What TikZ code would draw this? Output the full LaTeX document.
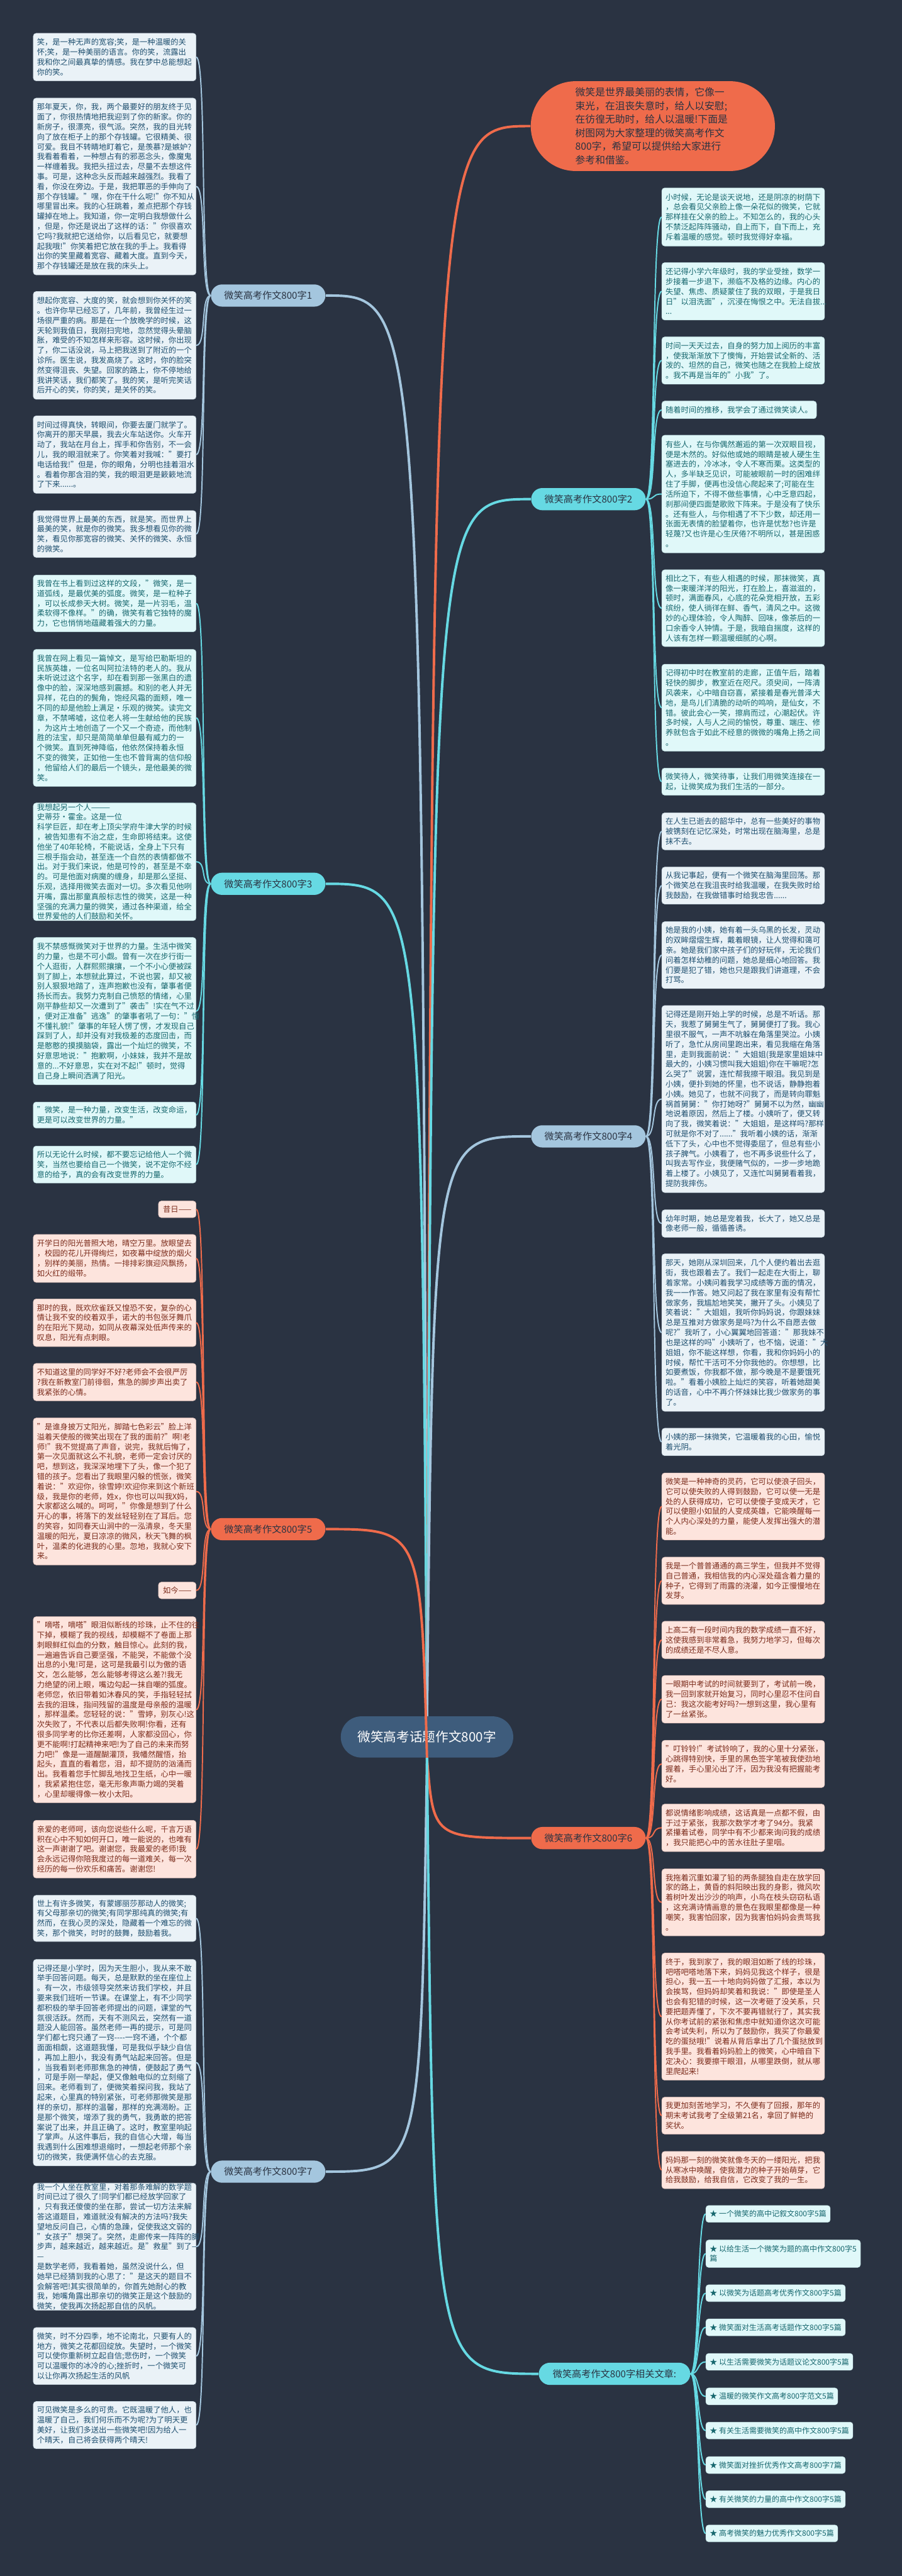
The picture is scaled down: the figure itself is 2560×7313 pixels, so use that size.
\documentclass[tikz,border=0pt]{standalone}
\usepackage{fontspec}
\setmainfont{Noto Sans CJK SC}
\usetikzlibrary{positioning,shapes.misc}
\definecolor{mapbg}{RGB}{42,51,66}
\definecolor{bluefill}{RGB}{234,242,247}
\definecolor{blueink}{RGB}{30,79,111}
\definecolor{tealfill}{RGB}{224,248,249}
\definecolor{tealink}{RGB}{22,103,110}
\definecolor{redfill}{RGB}{253,228,221}
\definecolor{redink}{RGB}{123,43,27}
\definecolor{bluepill}{RGB}{164,198,222}
\definecolor{tealpill}{RGB}{102,217,227}
\definecolor{redpill}{RGB}{239,107,75}
\definecolor{rootfill}{RGB}{62,92,124}
\newcommand{\boxfont}{\fontsize{6.25pt}{8.03pt}\selectfont}

\begin{document}
\begin{tikzpicture}[x=0.1mm,y=-0.1mm,
  para/.style={font=\boxfont,align=left,text width=44.1mm,inner xsep=1.05mm,inner ysep=0pt,rounded corners=0.8mm,line width=0.1mm},
  bluebox/.style={para,fill=bluefill,draw=bluefill!85!blueink,text=blueink},
  tealbox/.style={para,fill=tealfill,draw=tealfill!85!tealink,text=tealink},
  redbox/.style={para,fill=redfill,draw=redfill!85!redink,text=redink},
  lft/.style={anchor=north east},
  rgt/.style={anchor=north west},
  branch/.style={rounded rectangle,minimum width=32.5mm,minimum height=6.3mm,inner sep=0pt,font=\fontsize{7.7pt}{9pt}\selectfont,text=mapbg},
  item/.style={rounded corners=0.8mm,fill=tealfill,draw=tealfill!85!tealink,line width=0.1mm,text=tealink,anchor=west,align=left,
    minimum height=4.8mm,inner xsep=1.1mm,inner ysep=0pt,font=\fontsize{6.1pt}{7.8pt}\selectfont},
  bluelink/.style={draw=bluepill,line width=0.35mm},
  teallink/.style={draw=tealpill,line width=0.35mm},
  redlink/.style={draw=redpill,line width=0.35mm},
  trunk/.style={line width=0.7mm}]
\useasboundingbox (0,0) rectangle (2560,7313);
\fill[mapbg] (0,0) rectangle (2560,7313);

% root and intro
\node[rounded rectangle,fill=rootfill,text=white,minimum width=51.3mm,minimum height=11.7mm,font=\fontsize{10.5pt}{12pt}\selectfont] (root) at (1212,4931) {微笑高考话题作文800字};
\node[rounded rectangle,fill=redpill,text=mapbg,minimum width=69.3mm,minimum height=25.5mm,inner sep=0pt,align=left,text width=44mm,
  font=\fontsize{8.03pt}{10.9pt}\selectfont] (intro) at (1853,358) {微笑是世界最美丽的表情，它像一\\束光，在沮丧失意时，给人以安慰;\\在彷徨无助时，给人以温暖!下面是\\树图网为大家整理的微笑高考作文\\800字，希望可以提供给大家进行\\参考和借鉴。};

% branch nodes
\node[branch,fill=bluepill,anchor=west] (b1) at (598,839) {微笑高考作文800字1};
\node[branch,fill=tealpill,anchor=west] (b3) at (598,2509) {微笑高考作文800字3};
\node[branch,fill=redpill,anchor=west] (b5) at (598,4341) {微笑高考作文800字5};
\node[branch,fill=bluepill,anchor=west] (b7) at (598,6165) {微笑高考作文800字7};
\node[branch,fill=tealpill,anchor=west] (b2) at (1507,1417) {微笑高考作文800字2};
\node[branch,fill=bluepill,anchor=west] (b4) at (1507,3226) {微笑高考作文800字4};
\node[branch,fill=redpill,anchor=west] (b6) at (1507,5218) {微笑高考作文800字6};
\node[branch,fill=tealpill,anchor=east,minimum width=43mm] (br) at (1960,6739) {微笑高考作文800字相关文章:};

% branch 1
\node[bluebox,lft,minimum height=13.5mm] (a1) at (557,94) {笑，是一种无声的宽容;笑，是一种温暖的关\\怀;笑，是一种美丽的语言。你的笑，流露出\\我和你之间最真挚的情感。我在梦中总能想起\\你的笑。};
\node[bluebox,lft,minimum height=50.2mm] (a2) at (557,278) {那年夏天，你，我，两个最要好的朋友终于见\\面了，你很热情地把我迎到了你的新家。你的\\新房子，很漂亮，很气派。突然，我的目光转\\向了放在柜子上的那个存钱罐。它很精美、很\\可爱。我目不转睛地盯着它，是羡慕?是嫉妒?\\我看着看着，一种想占有的邪恶念头，像魔鬼\\一样缠着我。我把头扭过去，尽量不去想这件\\事。可是，这种念头反而越来越强烈。我看了\\看，你没在旁边。于是，我把罪恶的手伸向了\\那个存钱罐。"嘿，你在干什么呢!"你不知从\\哪里冒出来。我的心狂跳着，差点把那个存钱\\罐掉在地上。我知道，你一定明白我想做什么\\，但是，你还是说出了这样的话："你很喜欢\\它吗?我就把它送给你，以后看见它，就要想\\起我哦!"你笑着把它放在我的手上。我看得\\出你的笑里藏着宽容、藏着大度。直到今天，\\那个存钱罐还是放在我的床头上。};
\node[bluebox,lft,minimum height=30.6mm] (a3) at (557,827) {想起你宽容、大度的笑，就会想到你关怀的笑\\。也许你早已经忘了，几年前，我曾经生过一\\场很严重的病。那是在一个放晚学的时候，这\\天轮到我值日，我刚扫完地，忽然觉得头晕脑\\胀，难受的不知怎样来形容。这时候，你出现\\了，你二话没说，马上把我送到了附近的一个\\诊所。医生说，我发高烧了。这时，你的脸突\\然变得沮丧、失望。回家的路上，你不停地给\\我讲笑话，我们都笑了。我的笑，是听完笑话\\后开心的笑，你的笑，是关怀的笑。};
\node[bluebox,lft,minimum height=22mm] (a4) at (557,1180) {时间过得真快，转眼间，你要去厦门就学了。\\你离开的那天早晨，我去火车站送你。火车开\\动了，我站在月台上，挥手和你告别，不一会\\儿，我的眼泪就来了。你笑着对我喊："要打\\电话给我!"但是，你的眼角，分明也挂着泪水\\。看着你那含泪的笑，我的眼泪更是簌簌地流\\了下来......。};
\node[bluebox,lft,minimum height=13.3mm] (a5) at (557,1449) {我觉得世界上最美的东西，就是笑。而世界上\\最美的笑，就是你的微笑。我多想看见你的微\\笑，看见你那宽容的微笑、关怀的微笑、永恒\\的微笑。};

% branch 3
\node[tealbox,lft,minimum height=16.1mm] (c1) at (557,1632) {我曾在书上看到过这样的文段，"微笑，是一\\道弧线，是最优美的弧度。微笑，是一粒种子\\，可以长成参天大树。微笑，是一片羽毛，温\\柔软得不像样。"的确，微笑有着它独特的魔\\力，它也悄悄地蕴藏着强大的力量。};
\node[tealbox,lft,minimum height=38.9mm] (c2) at (557,1843) {我曾在网上看见一篇悼文，是写给巴勒斯坦的\\民族英雄，一位名叫阿拉法特的老人的。我从\\未听说过这个名字，却在看到那一张黑白的遗\\像中的脸，深深地感到震撼。和别的老人并无\\异样，花白的的鬓角，饱经风霜的面颊，唯一\\不同的却是他脸上满足·乐观的微笑。读完文\\章，不禁唏嘘，这位老人将一生献给他的民族\\，为这片土地创造了一个又一个奇迹，而他制\\胜的法宝，却只是简简单单但最有威力的一\\个微笑。直到死神降临，他依然保持着永恒\\不变的微笑，正如他一生也不曾背离的信仰般\\，他留给人们的最后一个镜头，是他最美的微\\笑。};
\node[tealbox,lft,minimum height=33.4mm] (c3) at (557,2279) {我想起另一个人———史蒂芬·霍金。这是一位\\科学巨匠，却在考上顶尖学府牛津大学的时候\\，被告知患有不治之症，生命即将结束。这使\\他坐了40年轮椅，不能说话，全身上下只有\\三根手指会动，甚至连一个自然的表情都做不\\出。对于我们来说，他是可怜的，甚至是不幸\\的。可是他面对病魔的缠身，却是那么坚挺、\\乐观，选择用微笑去面对一切。多次看见他咧\\开嘴，露出那童真般标志性的微笑，这是一种\\坚强的充满力量的微笑，通过各种渠道，给全\\世界爱他的人们鼓励和关怀。};
\node[tealbox,lft,minimum height=41.8mm] (c4) at (557,2661) {我不禁感慨微笑对于世界的力量。生活中微笑\\的力量，也是不可小觑。曾有一次在步行街一\\个人逛街，人群熙熙攘攘，一个不小心便被踩\\到了脚上，本想就此算过，不说也罢，却又被\\别人狠狠地踏了，连声抱歉也没有，肇事者便\\扬长而去。我努力克制自己愤怒的情绪，心里\\刚平静些却又一次遭到了"袭击"!实在气不过\\，便对正准备"逃逸"的肇事者吼了一句："懂\\不懂礼貌!"肇事的年轻人愣了愣，才发现自己\\踩到了人，却并没有对我极差的态度回击，而\\是憨憨的摸摸脑袋，露出一个灿烂的微笑，不\\好意思地说："抱歉啊，小妹妹，我并不是故\\意的...不好意思，实在对不起!"顿时，觉得\\自己身上瞬间洒满了阳光。};
\node[tealbox,lft,minimum height=7.4mm] (c5) at (557,3128) {"微笑，是一种力量，改变生活，改变命运，\\更是可以改变世界的力量。"};
\node[tealbox,lft,minimum height=10.5mm] (c6) at (557,3253) {所以无论什么时候，都不要忘记给他人一个微\\笑，当然也要给自己一个微笑，说不定你不经\\意的给予，真的会有改变世界的力量。};

% branch 5
\node[redbox,lft,text width=,inner xsep=1.3mm,minimum height=4.7mm] (d0) at (557,3409) {昔日——};
\node[redbox,lft,minimum height=13.6mm] (d1) at (557,3504) {开学日的阳光普照大地，晴空万里。放眼望去\\，校园的花儿开得绚烂，如夜幕中绽放的烟火\\，别样的美丽，热情。一排排彩旗迎风飘扬，\\如火红的缎带。};
\node[redbox,lft,minimum height=13.5mm] (d2) at (557,3687) {那时的我，既欢欣雀跃又惶恐不安，复杂的心\\情让我不安的绞着双手，诺大的书包张牙舞爪\\的在阳光下晃动，如同从夜幕深处低声传来的\\叹息，阳光有点刺眼。};
\node[redbox,lft,minimum height=10.6mm] (d3) at (557,3870) {不知道这里的同学好不好?老师会不会很严厉\\?我在新教室门前徘徊，焦急的脚步声出卖了\\我紧张的心情。};
\node[redbox,lft,minimum height=41.7mm] (d4) at (557,4025) {"是谁身披万丈阳光，脚踏七色彩云"脸上洋\\溢着天使般的微笑出现在了我的面前?"啊!老\\师!"我不觉提高了声音，说完，我就后悔了，\\第一次见面就这么不礼貌，老师一定会讨厌的\\吧，想到这，我深深地埋下了头，像一个犯了\\错的孩子。您看出了我眼里闪躲的慌张，微笑\\着说："欢迎你，徐雪婷!欢迎你来到这个新班\\级，我是你的老师，姓x，你也可以叫我X妈，\\大家都这么喊的。呵呵，"你像是想到了什么\\开心的事，将落下的发丝轻轻别在了耳后。您\\的笑容，如同春天山涧中的一泓清泉，冬天里\\温暖的阳光，夏日凉凉的微风，秋天飞舞的枫\\叶，温柔的化进我的心里。忽地，我就心安下\\来。};
\node[redbox,lft,text width=,inner xsep=1.3mm,minimum height=4.7mm] (d5) at (557,4491) {如今——};
\node[redbox,lft,minimum height=52.8mm] (d6) at (557,4589) {"嘀嗒，嘀嗒"眼泪似断线的珍珠，止不住的往\\下掉，模糊了我的视线，却模糊不了卷面上那\\刺眼鲜红似血的分数，触目惊心。此刻的我，\\一遍遍告诉自己要坚强，不能哭，不能做个没\\出息的小鬼!可是，这可是我最引以为傲的语\\文，怎么能够，怎么能够考得这么差?!我无\\力绝望的闭上眼，嘴边勾起一抹自嘲的弧度。\\老师您，依旧带着如沐春风的笑，手指轻轻拭\\去我的泪珠，指间残留的温度是母亲般的温暖\\，那样温柔。您轻轻的说："雪婷，别灰心!这\\次失败了，不代表以后都失败啊!你看，还有\\很多同学考的比你还差啊，人家都没回心，你\\更不能啊!打起精神来吧!为了自己的未来而努\\力吧!"像是一道醒醐灌顶，我幡然醒悟，抬\\起头，直直的看着您，泪，却不提防的汹涌而\\出。我看着您手忙脚乱地找卫生纸，心中一暖\\，我紧紧抱住您，毫无形象声嘶力竭的哭着\\，心里却暖得像一枚小太阳。};
\node[redbox,lft,minimum height=16.4mm] (d7) at (557,5167) {亲爱的老师呵，该向您说些什么呢，千言万语\\积在心中不知如何开口，唯一能说的，也唯有\\这一声谢谢了吧。谢谢您，我最爱的老师!我\\会永远记得你陪我度过的每一道难关，每一次\\经历的每一份欢乐和痛苦。谢谢您!};

% branch 7
\node[bluebox,lft,minimum height=13.1mm] (e1) at (557,5380) {世上有许多微笑，有蒙娜丽莎那动人的微笑;\\有父母那亲切的微笑;有同学那纯真的微笑;有\\然而，在我心灵的深处，隐藏着一个难忘的微\\笑，那个微笑，时时的鼓舞，鼓励着我。};
\node[bluebox,lft,minimum height=58.6mm] (e2) at (557,5562) {记得还是小学时，因为天生胆小，我从来不敢\\举手回答问题。每天，总是默默的坐在座位上\\。有一次，市级领导突然来访我们学校，并且\\要来我们班听一节课。在课堂上，有不少同学\\都积极的举手回答老师提出的问题，课堂的气\\氛很活跃。然而，天有不测风云，突然有一道\\题没人能回答。虽然老师一再的提示，可是同\\学们都七窍只通了一窍{-}{-}{-}{-}一窍不通，个个都\\面面相觑，这道题我懂，可是我似乎缺少自信\\，再加上胆小，我没有勇气站起来回答。但是\\，当我看到老师那焦急的神情，便鼓起了勇气\\，可是手刚一举起，便又像触电似的立刻缩了\\回来。老师看到了，便微笑着探问我，我站了\\起来，心里真的特别紧张，可老师那微笑是那\\样的亲切，那样的温馨，那样的充满渴盼。正\\是那个微笑，增添了我的勇气，我勇敢的把答\\案说了出来，并且正确了。这时，教室里响起\\了掌声。从这件事后，我的自信心大增，每当\\我遇到什么困难想退缩时，一想起老师那个亲\\切的微笑，我便满怀信心的去克服。};
\node[bluebox,lft,minimum height=36.1mm] (e3) at (557,6197) {我一个人坐在教室里，对着那条难解的数学题\\时间已过了很久了!同学们都已经放学回家了\\，只有我还傻傻的坐在那，尝试一切方法来解\\答这道题目，难道就没有解决的方法吗?我失\\望地反问自己，心情的急躁，促使我这文弱的\\"女孩子"想哭了。突然，走廊传来一阵阵的脚\\步声，越来越近，越来越近。是"救星"到了——\\是数学老师，我看着她，虽然没说什么，但\\她早已经猜到我的心思了："是这天的题目不\\会解答吧!其实很简单的，你首先她耐心的教\\我，她嘴角露出那亲切的微笑正是这个鼓励的\\微笑，使我再次扬起那自信的风帆。};
\node[bluebox,lft,minimum height=16.2mm] (e4) at (557,6607) {微笑，时不分四季，地不论南北，只要有人的\\地方，微笑之花都回绽放。失望时，一个微笑\\可以使你重新树立起自信;悲伤时，一个微笑\\可以温暖你的冰冷的心;挫折时，一个微笑可\\以让你再次扬起生活的风帆};
\node[bluebox,lft,minimum height=13.4mm] (e5) at (557,6817) {可见微笑是多么的可贵。它既温暖了他人，也\\温暖了自己，我们何乐而不为呢?为了明天更\\美好，让我们多送出一些微笑吧!因为给人一\\个晴天，自己将会获得两个晴天!};

% branch 2
\node[tealbox,rgt,minimum height=16.5mm] (f1) at (1878,533) {小时候，无论是谈天说地，还是阴凉的树荫下\\，总会看见父亲脸上像一朵花似的微笑，它就\\那样挂在父亲的脸上。不知怎么的，我的心头\\不禁泛起阵阵骚动，自上而下，自下而上，充\\斥着温暖的感觉。顿时我觉得好幸福。};
\node[tealbox,rgt,minimum height=16.3mm] (f2) at (1878,745) {还记得小学六年级时，我的学业受挫，数学一\\步接着一步退下，濒临不及格的边缘。内心的\\失望、焦虑、质疑蒙住了我的双眼，于是我日\\日"以泪洗面"，沉浸在悔恨之中。无法自拔...\\...};
\node[tealbox,rgt,minimum height=13.4mm] (f3) at (1878,956) {时间一天天过去，自身的努力加上阅历的丰富\\，使我渐渐放下了懊悔，开始尝试全新的、活\\泼的、坦然的自己，微笑也随之在我脸上绽放\\。我不再是当年的"小我"了。};
\node[tealbox,rgt,text width=41.8mm,minimum height=5mm] (f4) at (1878,1138) {随着时间的推移，我学会了通过微笑读人。};
\node[tealbox,rgt,minimum height=33.4mm] (f5) at (1878,1235) {有些人，在与你偶然邂逅的第一次双眼目视，\\便是木然的。好似他或她的眼睛是被人硬生生\\塞进去的，冷冰冰，令人不寒而栗。这类型的\\人，多半缺乏见识，可能被眼前一时的困难绊\\住了手脚，便再也没信心爬起来了;可能在生\\活所迫下，不得不做些事情，心中乏意四起，\\刹那间便四面楚歌败下阵来。于是没有了快乐\\。还有些人，与你相遇了不下少数，却还用一\\张面无表情的脸望着你，也许是忧愁?也许是\\轻蔑?又也许是心生厌倦?不明所以，甚是困惑\\。};
\node[tealbox,rgt,minimum height=21.8mm] (f6) at (1878,1617) {相比之下，有些人相遇的时候，那抹微笑，真\\像一束暖洋洋的阳光，打在脸上，喜滋滋的，\\顿时，满面春风，心底的花朵竞相开放，五彩\\缤纷，使人徜徉在鲜、香气，清风之中。这微\\妙的心理体验，令人陶醉、回味，像茶后的一\\口余香令人钟情。于是，我暗自揣度，这样的\\人该有怎样一颗温暖细腻的心啊。};
\node[tealbox,rgt,minimum height=24.7mm] (f7) at (1878,1885) {记得初中时在教室前的走廊，正值午后，踏着\\轻快的脚步，教室近在咫尺。须臾间，一阵清\\风袭来，心中暗自窃喜，紧接着是春光普泽大\\地，是鸟儿们清脆的动听的鸣响，是仙女，不\\错。彼此会心一笑，擦肩而过，心潮起伏。许\\多时候，人与人之间的愉悦，尊重、端庄、修\\养就包含于如此不经意的微微的嘴角上扬之间\\。};
\node[tealbox,rgt,minimum height=7.7mm] (f8) at (1878,2180) {微笑待人，微笑待事，让我们用微笑连接在一\\起，让微笑成为我们生活的一部分。};

% branch 4
\node[bluebox,rgt,minimum height=10.5mm] (g1) at (1878,2307) {在人生已逝去的韶华中，总有一些美好的事物\\被镌刻在记忆深处，时常出现在脑海里，总是\\抹不去。};
\node[bluebox,rgt,minimum height=10.5mm] (g2) at (1878,2461) {从我记事起，便有一个微笑在脑海里回荡。那\\个微笑总在我沮丧时给我温暖，在我失败时给\\我鼓励，在我做错事时给我忠告......};
\node[bluebox,rgt,minimum height=19mm] (g3) at (1878,2616) {她是我的小姨，她有着一头乌黑的长发，灵动\\的双眸熠熠生辉，戴着眼镜，让人觉得和蔼可\\亲。她是我们家中孩子们的好玩伴，无论我们\\问着怎样幼稚的问题，她总是细心地回答。我\\们要是犯了错，她也只是跟我们讲道理，不会\\打骂。};
\node[bluebox,rgt,minimum height=53.1mm] (g4) at (1878,2854) {记得还是刚开始上学的时候，总是不听话。那\\天，我惹了舅舅生气了，舅舅便打了我。我心\\里很不服气，一声不吭躲在角落里哭泣。小姨\\听了，急忙从房间里跑出来，看见我缩在角落\\里，走到我面前说："大姐姐(我是家里姐妹中\\最大的，小姨习惯叫我大姐姐)你在干嘛呢?怎\\么哭了"说罢，连忙帮我擦干眼泪。我见到是\\小姨，便扑到她的怀里，也不说话，静静抱着\\小姨。她见了，也就不问我了，而是转向罪魁\\祸首舅舅："你打她呀?"舅舅不以为然，幽幽\\地说着原因，然后上了楼。小姨听了，便又转\\向了我，微笑着说："大姐姐，是这样吗?那样\\可就是你不对了......"我听着小姨的话，渐渐\\低下了头，心中也不觉得委屈了，但总有些小\\孩子脾气。小姨看了，也不再多说些什么了，\\叫我去写作业，我便赌气似的，一步一步地跪\\着上楼了。小姨见了，又连忙叫舅舅看着我，\\提防我摔伤。};
\node[bluebox,rgt,minimum height=7.8mm] (g5) at (1878,3434) {幼年时期，她总是宠着我，长大了，她又总是\\像老师一般，循循善诱。};
\node[bluebox,rgt,minimum height=44.7mm] (g6) at (1878,3559) {那天，她刚从深圳回来，几个人便约着出去逛\\街，我也跟着去了。我们一起走在大街上，聊\\着家常。小姨问着我学习成绩等方面的情况，\\我一一作答。她又问起了我在家里有没有帮忙\\做家务，我尴尬地笑笑，撇开了头。小姨见了\\笑着说："大姐姐，我听你妈妈说，你跟妹妹\\总是互推对方做家务是吗?为什么不自愿去做\\呢?"我听了，小心翼翼地回答道："那我妹不\\也是这样的吗"小姨听了，也不恼，说道："大\\姐姐，你不能这样想，你看，我和你妈妈小的\\时候，帮忙干活可不分你我他的。你想想，比\\如要煮饭，你我都不做，那今晚是不是要饿死\\啦。"看着小姨脸上灿烂的笑容，听着她甜美\\的话音，心中不再介怀妹妹比我少做家务的事\\了。};
\node[bluebox,rgt,minimum height=7.8mm] (g7) at (1878,4054) {小姨的那一抹微笑，它温暖着我的心田，愉悦\\着光阴。};

% branch 6
\node[redbox,rgt,minimum height=19mm] (h1) at (1878,4181) {微笑是一种神奇的灵药，它可以使浪子回头，\\它可以使失败的人得到鼓励，它可以使一无是\\处的人获得成功，它可以使傻子变成天才，它\\可以使胆小如鼠的人变成英雄，它能唤醒每一\\个人内心深处的力量，能使人发挥出强大的潜\\能。};
\node[redbox,rgt,minimum height=13.4mm] (h2) at (1878,4420) {我是一个普普通通的高三学生，但我并不觉得\\自己普通，我相信我的内心深处蕴含着力量的\\种子，它得到了雨露的浇灌，如今正慢慢地在\\发芽。};
\node[redbox,rgt,minimum height=10.6mm] (h3) at (1878,4602) {上高二有一段时间内我的数学成绩一直不好，\\这使我感到非常着急，我努力地学习，但每次\\的成绩还是不尽人意。};
\node[redbox,rgt,minimum height=13.5mm] (h4) at (1878,4756) {一眼期中考试的时间就要到了，考试前一晚，\\我一回到家就开始复习，同时心里忍不住问自\\己：我这次能考好吗?一想到这里，我心里有\\了一丝紧张。};
\node[redbox,rgt,minimum height=13.4mm] (h5) at (1878,4940) {"叮铃铃!"考试铃响了，我的心里十分紧张，\\心跳得特别快，手里的黑色签字笔被我使劲地\\握着，手心里沁出了汗，因为我没有把握能考\\好。};
\node[redbox,rgt,minimum height=13.5mm] (h6) at (1878,5121) {都说情绪影响成绩，这话真是一点都不假，由\\于过于紧张，我那次数学才考了94分。我紧\\紧攥着试卷，同学中有不少都来询问我的成绩\\，我只能把心中的苦水往肚子里咽。};
\node[redbox,rgt,minimum height=19mm] (h7) at (1878,5305) {我拖着沉重如灌了铅的两条腿独自走在放学回\\家的路上，黄昏的斜阳映出我的身影，微风吹\\着树叶发出沙沙的响声，小鸟在枝头窃窃私语\\，这充满诗情画意的景色在我眼里都像是一种\\嘲笑，我害怕回家，因为我害怕妈妈会责骂我\\。};
\node[redbox,rgt,minimum height=36.1mm] (h8) at (1878,5544) {终于，我到家了，我的眼泪如断了线的珍珠，\\吧嗒吧嗒地落下来，妈妈见我这个样子，很是\\担心，我一五一十地向妈妈做了汇报，本以为\\会挨骂，但妈妈却笑着和我说："即使是圣人\\也会有犯错的时候，这一次考砸了没关系，只\\要把题弄懂了，下次不要再错就行了，其实我\\从你考试前的紧张和焦虑中就知道你这次可能\\会考试失利，所以为了鼓励你，我买了你最爱\\吃的蛋挞哦!"说着从背后拿出了几个蛋挞放到\\我手里。我看着妈妈脸上的微笑，心中暗自下\\定决心：我要擦干眼泪，从哪里跌倒，就从哪\\里爬起来!};
\node[redbox,rgt,minimum height=10.5mm] (h9) at (1878,5953) {我更加刻苦地学习，不久便有了回报，那年的\\期末考试我考了全级第21名，拿回了鲜艳的\\奖状。};
\node[redbox,rgt,minimum height=10.6mm] (h10) at (1878,6107) {妈妈那一刻的微笑就像冬天的一缕阳光，把我\\从寒冰中唤醒，使我潜力的种子开始萌芽，它\\给我鼓励，给我自信，它改变了我的一生。};

% related articles
\node[item] (i1) at (2003,6285) {★ 一个微笑的高中记叙文800字5篇};
\node[item,minimum height=7.8mm] (i2) at (2003,6398) {★ 以给生活一个微笑为题的高中作文800字5\\篇};
\node[item] (i3) at (2003,6510) {★ 以微笑为话题高考优秀作文800字5篇};
\node[item] (i4) at (2003,6607) {★ 微笑面对生活高考话题作文800字5篇};
\node[item] (i5) at (2003,6705) {★ 以生活需要微笑为话题议论文800字5篇};
\node[item] (i6) at (2003,6803) {★ 温暖的微笑作文高考800字范文5篇};
\node[item] (i7) at (2003,6900) {★ 有关生活需要微笑的高中作文800字5篇};
\node[item] (i8) at (2003,6998) {★ 微笑面对挫折优秀作文高考800字7篇};
\node[item] (i9) at (2003,7095) {★ 有关微笑的力量的高中作文800字5篇};
\node[item] (i10) at (2003,7192) {★ 高考微笑的魅力优秀作文800字5篇};

% connectors: branch to children
\foreach \k in {a1,a2,a3,a4,a5} \draw[bluelink] (b1.west) .. controls +(-30,0) and +(30,0) .. (\k.east);
\foreach \k in {c1,c2,c3,c4,c5,c6} \draw[teallink] (b3.west) .. controls +(-30,0) and +(30,0) .. (\k.east);
\foreach \k in {d0,d1,d2,d3,d4,d5,d6,d7} \draw[redlink] (b5.west) .. controls +(-30,0) and +(30,0) .. (\k.east);
\foreach \k in {e1,e2,e3,e4,e5} \draw[bluelink] (b7.west) .. controls +(-30,0) and +(30,0) .. (\k.east);
\foreach \k in {f1,f2,f3,f4,f5,f6,f7,f8} \draw[teallink] (b2.east) .. controls +(30,0) and +(-30,0) .. (\k.west);
\foreach \k in {g1,g2,g3,g4,g5,g6,g7} \draw[bluelink] (b4.east) .. controls +(30,0) and +(-30,0) .. (\k.west);
\foreach \k in {h1,h2,h3,h4,h5,h6,h7,h8,h9,h10} \draw[redlink] (b6.east) .. controls +(30,0) and +(-30,0) .. (\k.west);
\foreach \k in {i1,i2,i3,i4,i5,i6,i7,i8,i9,i10} \draw[teallink] (br.east) .. controls +(25,0) and +(-25,0) .. (\k.west);

% connectors: root to branches
\draw[bluelink,trunk] (root.north) .. controls (1195,839) and (1195,839) .. (b1.east);
\draw[teallink,trunk] (root.north) .. controls (1195,2509) and (1195,2509) .. (b3.east);
\draw[redlink,trunk] (root.north) .. controls (1230,358) and (1230,358) .. (intro.west);
\draw[teallink,trunk] (root.north) .. controls (1230,1417) and (1230,1417) .. (b2.west);
\draw[bluelink,trunk] (root.north) .. controls (1230,3226) and (1230,3226) .. (b4.west);
\draw[redlink,trunk] (root.south) .. controls (1195,4341) and (1195,4341) .. (b5.east);
\draw[bluelink,trunk] (root.south) .. controls (1195,6165) and (1195,6165) .. (b7.east);
\draw[redlink,trunk] (root.south) .. controls (1230,5218) and (1230,5218) .. (b6.west);
\draw[teallink,trunk] (root.south) .. controls (1230,6739) and (1230,6739) .. (br.west);
\end{tikzpicture}
\end{document}
